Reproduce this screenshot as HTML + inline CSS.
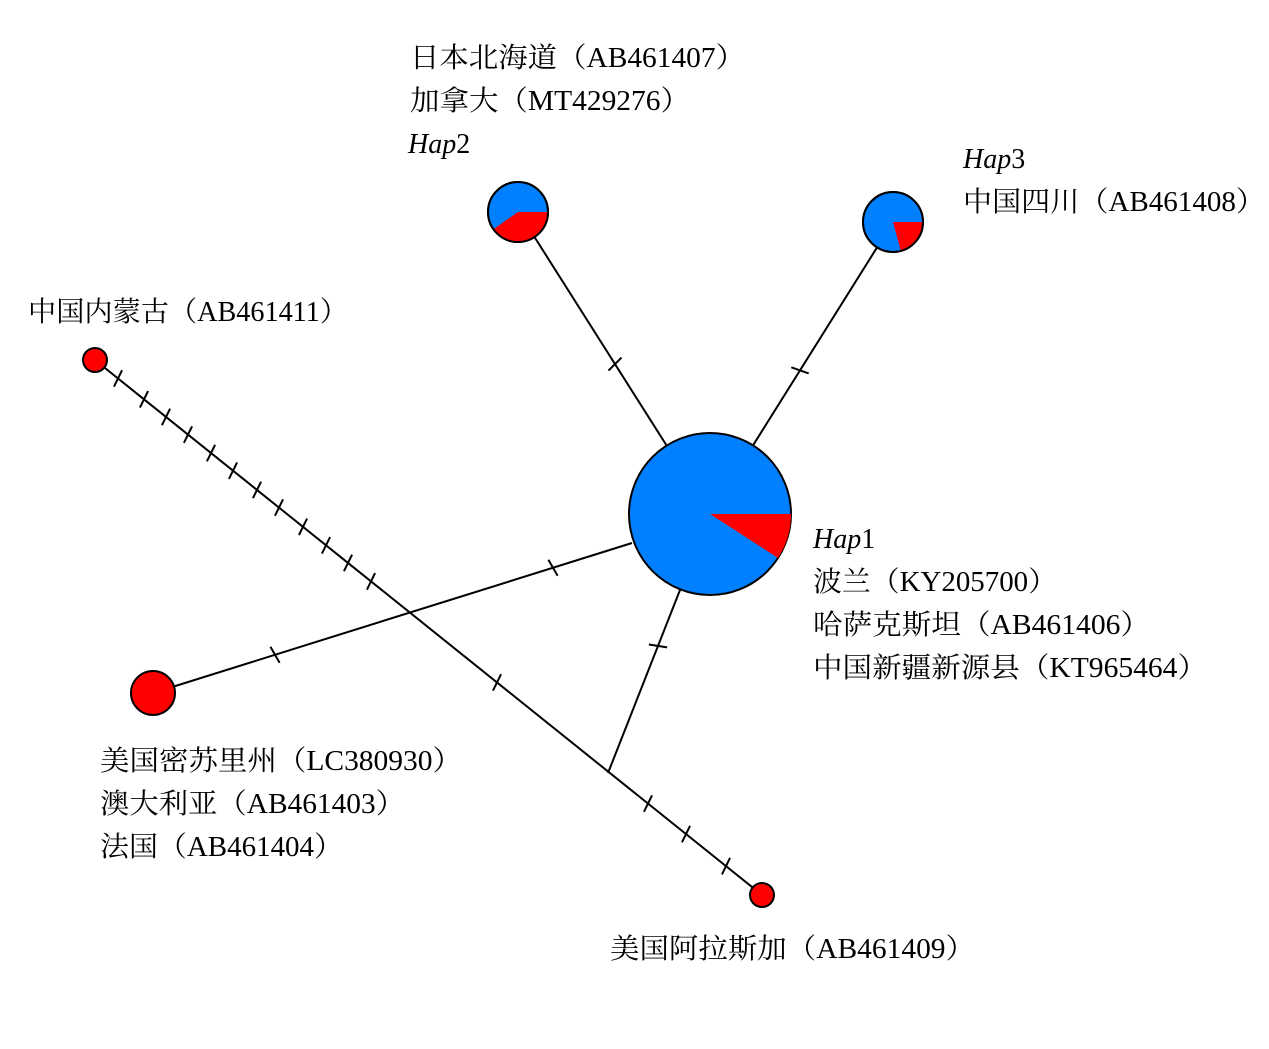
<!DOCTYPE html>
<html><head><meta charset="utf-8"><style>
html,body{margin:0;padding:0;background:#fff;}
svg{display:block;}
text{font-family:"Liberation Serif","Noto Serif CJK SC",serif;font-size:28px;fill:#000;}
.i{font-style:italic;}
</style></head><body>
<svg id="s" width="1269" height="1049" viewBox="0 0 1269 1049" xmlns="http://www.w3.org/2000/svg">
<g stroke="#000" stroke-width="2" fill="none">
<line x1="518" y1="211" x2="710" y2="514"/>
<line x1="893" y1="222" x2="710" y2="514"/>
<line x1="95" y1="360" x2="762" y2="895"/>
<line x1="608" y1="773" x2="680" y2="590"/>
<line x1="153" y1="693" x2="632" y2="543"/>
</g>
<g id="ticks" stroke="#000" stroke-width="2"></g>
<g stroke="#000" stroke-width="2">
<circle cx="710" cy="514" r="81" fill="#0080ff"/>
<path d="M710,514 L791,514 A81,81 0 0 1 778,558 Z" fill="#ff0000" stroke="none"/>
<circle cx="518" cy="212" r="30" fill="#0080ff"/>
<path d="M518,212 L548,212 A30,30 0 0 1 493.4,229.2 Z" fill="#ff0000" stroke="none"/>
<circle cx="518" cy="212" r="30" fill="none"/>
<circle cx="893" cy="222" r="30" fill="#0080ff"/>
<path d="M893,222 L923,222 A30,30 0 0 1 900.8,251 Z" fill="#ff0000" stroke="none"/>
<circle cx="893" cy="222" r="30" fill="none"/>
<circle cx="95" cy="360" r="12" fill="#ff0000"/>
<circle cx="153" cy="693" r="22" fill="#ff0000"/>
<circle cx="762" cy="895" r="12" fill="#ff0000"/>
</g>
<text x="410" y="67" textLength="335" lengthAdjust="spacingAndGlyphs">日本北海道（AB461407）</text>
<text x="410" y="110" textLength="280" lengthAdjust="spacingAndGlyphs">加拿大（MT429276）</text>
<text x="408" y="153" class="i">Hap<tspan font-style="normal">2</tspan></text>
<text x="963" y="168" class="i">Hap<tspan font-style="normal">3</tspan></text>
<text x="963" y="211" textLength="302" lengthAdjust="spacingAndGlyphs">中国四川（AB461408）</text>
<text x="28" y="321" textLength="320" lengthAdjust="spacingAndGlyphs">中国内蒙古（AB461411）</text>
<text x="813" y="548" class="i">Hap<tspan font-style="normal">1</tspan></text>
<text x="813" y="591" textLength="244" lengthAdjust="spacingAndGlyphs">波兰（KY205700）</text>
<text x="813" y="634" textLength="337" lengthAdjust="spacingAndGlyphs">哈萨克斯坦（AB461406）</text>
<text x="813" y="677" textLength="394" lengthAdjust="spacingAndGlyphs">中国新疆新源县（KT965464）</text>
<text x="100" y="770" textLength="362" lengthAdjust="spacingAndGlyphs">美国密苏里州（LC380930）</text>
<text x="100" y="813" textLength="305" lengthAdjust="spacingAndGlyphs">澳大利亚（AB461403）</text>
<text x="100" y="856" textLength="243" lengthAdjust="spacingAndGlyphs">法国（AB461404）</text>
<text x="610" y="958" textLength="365" lengthAdjust="spacingAndGlyphs">美国阿拉斯加（AB461409）</text>
</svg>
<script>
var g=document.getElementById('ticks');
function tick(x1,y1,x2,y2,xs){
 var dx=x2-x1,dy=y2-y1,L=Math.hypot(dx,dy),ux=dx/L,uy=dy/L,px=-uy,py=ux;
 xs.forEach(function(x){
  var t=(x-x1)/dx,cx=x1+t*dx,cy=y1+t*dy;
  var l=document.createElementNS('http://www.w3.org/2000/svg','line');
  l.setAttribute('x1',cx+px*9+ux*2);l.setAttribute('y1',cy+py*9+uy*2);
  l.setAttribute('x2',cx-px*9-ux*2);l.setAttribute('y2',cy-py*9-uy*2);
  g.appendChild(l);
 });
}
tick(95,360,762,895,[118,144,166,188,211,233,257,279,303,326,348,371,497,648,686,726]);
tick(153,693,632,543,[275,553]);
tick(608,773,680,590,[658]);
tick(518,211,710,514,[615]);
tick(893,222,710,514,[800]);
</script>
</body></html>
